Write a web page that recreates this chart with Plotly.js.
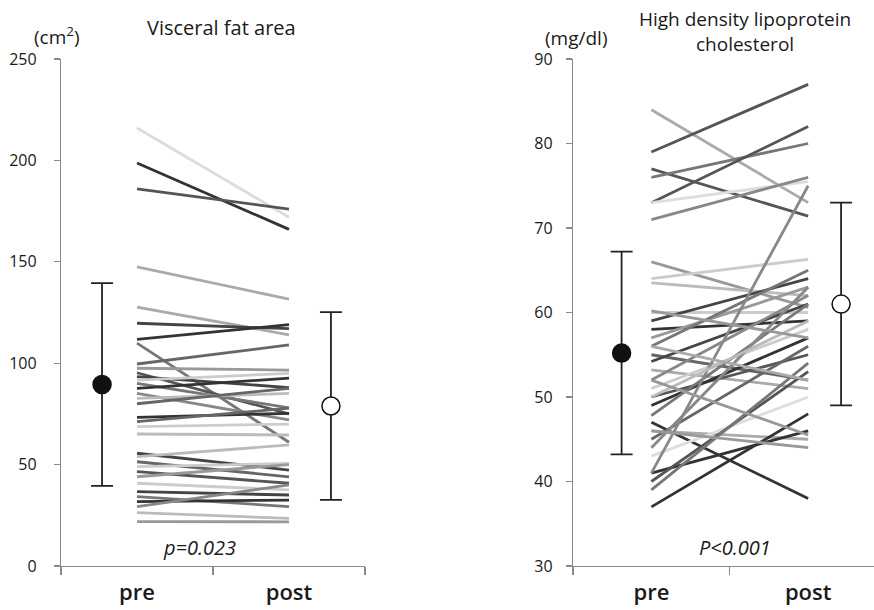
<!DOCTYPE html>
<html><head><meta charset="utf-8">
<script src="https://cdn.plot.ly/plotly-3.0.1.min.js"></script>
<style>html,body{margin:0;padding:0;background:#fff}#chart{width:874px;height:610px}</style>
</head><body><div id="chart"></div>
<script>
// ---------- DATA ----------
const categories = ['pre', 'post'];

// Visceral fat area (cm2), individual subjects
const vfaPre  = [216, 198.7, 186, 147.5, 127.7, 119.7, 111.8, 109.9, 99.6, 97.5, 95.3, 93.4, 91.7, 90.1, 87.6, 85.1, 82.7, 80, 73.3, 71.2, 68.7, 65.1, 55.6, 53.9, 51.4, 49.0, 46.5, 44, 40.8, 36.7, 34.2, 31.7, 29.3, 26.3, 21.9];
const vfaPost = [172, 166, 176, 131.6, 114, 117, 119, 61, 109, 96.6, 75, 88, 95, 78, 92.6, 72, 85.1, 87.6, 75.3, 77.8, 70, 64.6, 47.3, 59.7, 44, 50.6, 40.8, 50, 37.5, 35, 29.3, 32.5, 40, 23.5, 21.8];
const vfaMean = [89.5, 78.9];
const vfaSD   = [50, 46.3];
const vfaP = 'p=0.023';

// HDL cholesterol (mg/dl), individual subjects
const hdlPre  = [84, 79, 77, 76, 73, 73, 71, 66, 64, 63.5, 60, 59, 58, 57, 56, 55, 54.2, 53.2, 52, 51, 50, 49, 47.8, 47, 46, 45, 44, 43, 41, 40, 39, 41, 37, 46, 50, 56, 60.2, 52];
const hdlPost = [73, 87, 71.4, 80, 82, 75.5, 76, 60.6, 66.3, 62, 60, 64, 59, 63, 65, 52, 61, 51, 62, 58, 55, 57, 61, 38, 45, 56, 63, 50, 46, 53, 54, 75, 48, 44, 59, 52, 57, 45.5];
const hdlMean = [55.2, 61];
const hdlSD   = [12, 12];
const hdlP = 'P<0.001';

// ---------- STYLE ----------
const vfaColors = ['#dcdcdc','#333','#555','#aaa','#aaa','#444','#333','#777','#666','#999','#555','#444','#ccc','#777','#333','#888','#bbb','#666','#333','#666','#ccc','#bbb','#444','#bbb','#666','#ccc','#555','#999','#ccc','#444','#777','#333','#888','#bbb','#999'];
const hdlColors = ['#aaa','#555','#555','#777','#555','#ddd','#888','#999','#ccc','#bbb','#ccc','#444','#333','#999','#777','#666','#444','#aaa','#888','#ccc','#555','#333','#777','#333','#aaa','#666','#888','#ddd','#333','#555','#777','#888','#333','#999','#bbb','#aaa','#999','#999'];

const W = 874, H = 610;
const px = x => x / W, py = y => 1 - y / H;
const FONT = '"Open Sans", sans-serif';
const TXT = '#1a1a1a';

const traces = [];
function addLines(pre, post, colors, xa, ya) {
  for (let i = 0; i < pre.length; i++) {
    traces.push({
      type: 'scatter', mode: 'lines', x: categories, y: [pre[i], post[i]],
      xaxis: xa, yaxis: ya, line: {color: colors[i], width: 2.8},
      showlegend: false, hoverinfo: 'skip'
    });
  }
}
addLines(vfaPre, vfaPost, vfaColors, 'x', 'y');
addLines(hdlPre, hdlPost, hdlColors, 'x2', 'y2');

function addMeans(mean, sd, xpos, xa, ya) {
  const fills = ['#111', '#fff'];
  for (let i = 0; i < 2; i++) {
    traces.push({
      type: 'scatter', mode: 'markers', x: [xpos[i]], y: [mean[i]],
      xaxis: xa, yaxis: ya, showlegend: false, hoverinfo: 'skip',
      marker: {size: 18, color: fills[i], line: {color: '#111', width: 1.5}},
      error_y: {type: 'data', array: [sd[i]], arrayminus: [sd[i]], color: '#222', thickness: 1.8, width: 11}
    });
  }
}
addMeans(vfaMean, vfaSD, [-0.23, 1.276], 'x3', 'y');
addMeans(hdlMean, hdlSD, [-0.19, 1.21], 'x4', 'y2');

const yDom = [py(566), py(59)];
const axBase = {
  showgrid: false, zeroline: false, showline: true, linecolor: '#8a8a8a', linewidth: 1.2,
  ticks: 'outside', ticklen: 6, tickcolor: '#8a8a8a', tickwidth: 1.2,
  tickfont: {family: FONT, size: 16, color: TXT}
};
const xCat = Object.assign({}, axBase, {
  type: 'category', categoryarray: categories, categoryorder: 'array',
  tickson: 'boundaries', ticklen: 8, ticklabelstandoff: 6,
  tickfont: {family: FONT, size: 22, color: TXT, weight: 600}
});

const layout = {
  width: W, height: H, margin: {l: 0, r: 0, t: 0, b: 0},
  paper_bgcolor: '#fff', plot_bgcolor: 'rgba(0,0,0,0)', hovermode: false,
  xaxis: Object.assign({}, xCat, {domain: [px(61), px(365)], range: [-0.5, 1.5], anchor: 'y'}),
  xaxis2: Object.assign({}, xCat, {domain: [px(573), 1], range: [-0.5, 1.42], anchor: 'y2'}),
  xaxis3: {overlaying: 'x', anchor: 'y', range: [-0.5, 1.5], visible: false, type: 'linear'},
  xaxis4: {overlaying: 'x2', anchor: 'y2', range: [-0.5, 1.42], visible: false, type: 'linear'},
  yaxis: Object.assign({}, axBase, {domain: yDom, range: [0, 250], dtick: 50, anchor: 'x', ticklabelstandoff: 14}),
  yaxis2: Object.assign({}, axBase, {domain: yDom, range: [30, 90], dtick: 10, anchor: 'x2', ticklabelstandoff: 10}),
  annotations: [
    {text: '(cm<sup>2</sup>)', x: px(57), y: py(36), font: {size: 19}},
    {text: 'Visceral fat area', x: px(221), y: py(28), font: {size: 20}},
    {text: '(mg/dl)', x: px(576), y: py(38), font: {size: 19}},
    {text: 'High density lipoprotein<br>cholesterol', x: px(745), y: py(31), font: {size: 19}},
    {text: '<i>' + vfaP + '</i>', x: px(199), y: py(547), font: {size: 20}},
    {text: '<i>' + hdlP.replace('<', '&lt;') + '</i>', x: px(735), y: py(547), font: {size: 20}}
  ].map(a => Object.assign({xref: 'paper', yref: 'paper', xanchor: 'center', yanchor: 'middle', showarrow: false},
    a, {font: Object.assign({family: FONT, color: TXT}, a.font)}))
};

Plotly.newPlot('chart', traces, layout, {staticPlot: true, displayModeBar: false});
</script>
</body></html>
